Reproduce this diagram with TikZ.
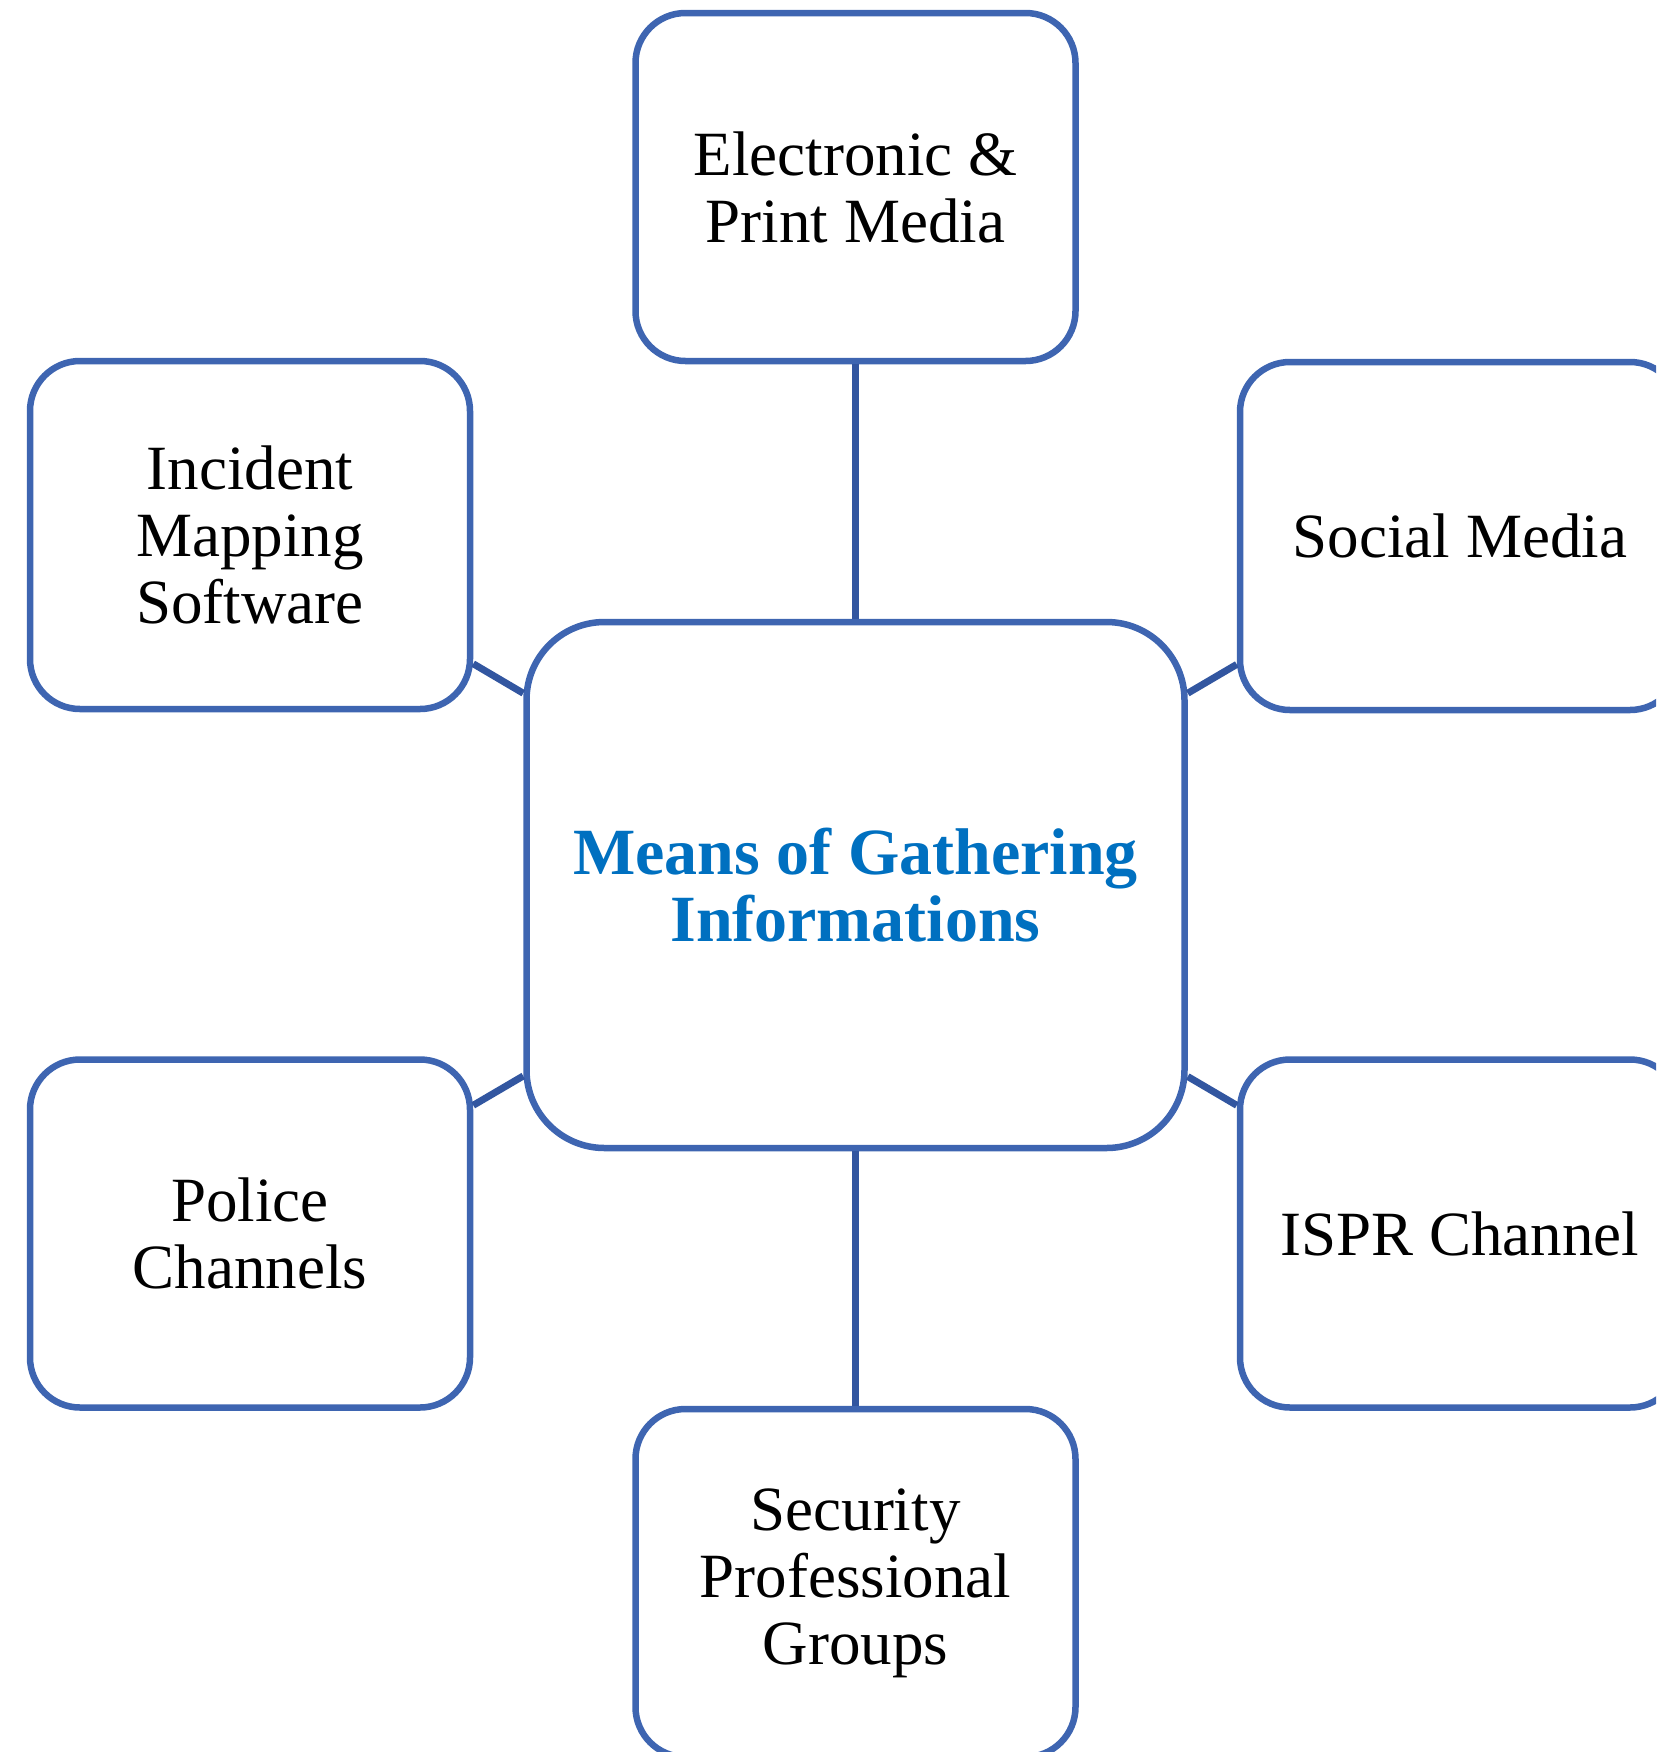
\documentclass[tikz,border=0pt]{standalone}
\usepackage{fontspec}
\setmainfont{Liberation Serif}
\definecolor{boxblue}{RGB}{62,101,177}
\definecolor{lineblue}{RGB}{50,86,160}
\definecolor{titleblue}{RGB}{0,112,192}
\begin{document}
\begin{tikzpicture}[x=0.5pt,y=-0.5pt,
  sidebox/.style={draw=boxblue, line width=3.25pt, rounded corners=25pt, fill=white,
    minimum width=220pt, minimum height=174pt, align=center, inner sep=0pt,
    font=\fontsize{31.5}{33.5}\selectfont},
  hubbox/.style={draw=boxblue, line width=3.25pt, rounded corners=39pt, fill=white,
    minimum width=329pt, minimum height=263pt, align=center, inner sep=0pt,
    text=titleblue, font=\fontsize{33}{33.5}\selectfont\bfseries},
  link/.style={draw=lineblue, line width=3.5pt}]
\clip (0,0) rectangle (1656,1752);
\node[hubbox] (hub) at (855.5,885) {Means of Gathering\\Informations};
\node[sidebox] (media) at (855.5,187) {Electronic \&\\Print Media};
\node[sidebox] (incident) at (250,535) {Incident\\Mapping\\Software};
\node[sidebox] (social) at (1460,536) {Social Media};
\node[sidebox] (police) at (250,1233.5) {Police\\Channels};
\node[sidebox] (ispr) at (1460,1233.5) {ISPR Channel};
\node[sidebox] (security) at (855.5,1583) {Security\\Professional\\Groups};
\draw[link] (hub) -- (media);
\draw[link] (hub) -- (incident);
\draw[link] (hub) -- (social);
\draw[link] (hub) -- (police);
\draw[link] (hub) -- (ispr);
\draw[link] (hub) -- (security);
\end{tikzpicture}
\end{document}
